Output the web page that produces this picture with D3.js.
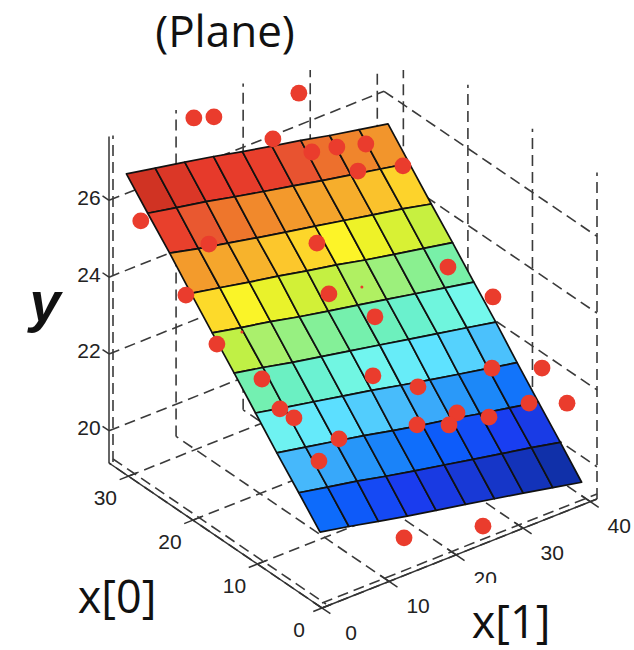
<!DOCTYPE html>
<html>
<head>
<meta charset="utf-8">
<script src="https://d3js.org/d3.v7.min.js"></script>
<style>
body{margin:0;background:#fff;}
text{font-family:"Liberation Sans",sans-serif;fill:#222;}
.big{font-family:"Open Sans",sans-serif;fill:#111;}
</style>
</head>
<body>
<div id="chart"></div>
<script>
// surface grid (rows run from high x[0] to low x[0])
var x0Grid=[30.3,27,23.6,20.3,17,13.6,10.3,7,3.6,0.3];
var x1Grid=[0,4.3,8.7,13,17.3,21.7,26,30.3,34.7,39];
var surfaceY=[
[27.00,26.85,26.70,26.55,26.38,26.22,26.07,25.90,25.75,25.60],
[26.35,26.20,26.05,25.88,25.72,25.56,25.40,25.25,25.10,24.95],
[25.70,25.52,25.36,25.20,25.05,24.90,24.75,24.60,24.45,24.28],
[25.03,24.88,24.72,24.58,24.42,24.27,24.10,23.95,23.80,23.65],
[24.38,24.22,24.07,23.90,23.75,23.60,23.45,23.30,23.15,23.00],
[23.72,23.57,23.40,23.25,23.10,22.95,22.80,22.65,22.50,22.35],
[23.06,22.90,22.75,22.60,22.45,22.28,22.12,21.97,21.82,21.67],
[22.40,22.25,22.10,21.95,21.78,21.62,21.48,21.32,21.17,21.02],
[21.75,21.60,21.45,21.28,21.12,20.97,20.82,20.67,20.52,20.36],
[21.10,20.95,20.78,20.62,20.47,20.32,20.17,20.02,19.86,19.70]
];

// observed points
var pointX0=[33,33,33,31,29,29,29,27,27,29,24,22,18,22,18,15,16,17,13,11,10,8,10,4,7,10,9,7,6,7,6,7,6,0,0];
var pointX1=[12.65,15.64,28.31,22.51,26.39,30.12,34.44,31.34,38.05,0.89,6.23,20.41,36.1,0.88,18.35,39.92,23.29,0.69,3.56,18.18,34.96,40.5,23.93,40.38,37.6,3.35,4.48,26.86,24.71,20.9,30.67,9.27,5.32,12.23,24.0];
var pointY=[27.27,27.09,26.83,26.27,25.89,25.76,25.54,25.28,24.95,25.86,25.46,24.73,23.48,24.73,24.01,22.78,23.30,24.04,23.39,22.69,21.84,21.69,22.12,21.24,21.09,22.97,22.77,21.58,21.53,21.68,21.32,22.12,21.93,20.14,19.63];

// points that barely show through the surface
var hiddenX0=[18,16];
var hiddenX1=[23.27,3.46];
var hiddenY=[23.85,24.28];

// tick values
var x0Ticks=[0,10,20,30];
var x1Ticks=[0,10,20,30,40];
var yTicks=[20,22,24,26];

// colour stops
var colorDomain=[26.75,26.3,25.95,25.8,25.6,25.3,25.0,24.8,24.63,24.5,24.35,24.15,23.97,23.8,23.6,23.4,23.1,22.75,22.4,22.0,21.6,21.3,20.9,20.5,20.1];
var colorRange=["#c5301f","#e63a2b","#e83f2c","#e85530","#ef7a2c","#f39a2c","#f6ae2c","#fcc92c","#fdd92a","#fdf528","#eef228","#d0f038","#c0f045","#a8f070","#90f088","#78f0a8","#68f0c8","#74f8ec","#5fe4ff","#46b8fb","#1e8cf8","#0a64fc","#1a3cf0","#1838d0","#1030a8"];

var svgWidth=634;
var svgHeight=650;

var svg=d3.select("#chart")
.append("svg")
.attr("width",svgWidth)
.attr("height",svgHeight);

// box limits
var x0Max=33, x1Max=41, yMin=19.16, yMax=27.66;
var originX=322, originY=608;

// each data axis moves the screen position along its own direction
var x0ToX=d3.scaleLinear().domain([0,x0Max]).range([0,-213]);
var x0ToY=d3.scaleLinear().domain([0,x0Max]).range([0,-145]);
var x1ToX=d3.scaleLinear().domain([0,x1Max]).range([0,275]);
var x1ToY=d3.scaleLinear().domain([0,x1Max]).range([0,-109]);
var yToY=d3.scaleLinear().domain([yMin,yMax]).range([0,-326.4]);
var colorScale=d3.scaleLinear().domain(colorDomain).range(colorRange).clamp(true);

function project(a,b,c) {
    return [originX+x0ToX(a)+x1ToX(b), originY+x0ToY(a)+x1ToY(b)+yToY(c)];
}

var line=d3.line();

function dashed(from,to) {
    svg.append("path")
    .attr("d",line([from,to]))
    .attr("fill","none")
    .attr("stroke","#3a3a3a")
    .attr("stroke-width",1.6)
    .attr("stroke-dasharray","11 6");
}

function solid(from,to) {
    svg.append("path")
    .attr("d",line([from,to]))
    .attr("fill","none")
    .attr("stroke","#333")
    .attr("stroke-width",1.5);
}

// walls: lines of constant y
yTicks.forEach(function(t) {
    dashed(project(x0Max,0,t),project(x0Max,x1Max,t));
    dashed(project(x0Max,x1Max,t),project(0,x1Max,t));
    solid(project(x0Max,0,t),project(x0Max+1,0,t));
});

// walls: verticals
x1Ticks.slice(1).forEach(function(t) {
    dashed(project(x0Max,t,yMin),project(x0Max,t,yMax));
});
x0Ticks.forEach(function(t) {
    dashed(project(t,x1Max,yMin),project(t,x1Max,yMax));
});

// floor grid
x0Ticks.forEach(function(t) {
    dashed(project(t,0,yMin),project(t,x1Max,yMin));
    solid(project(t,-1.3,yMin),project(t,1.3,yMin));
});
x1Ticks.forEach(function(t) {
    dashed(project(0,t,yMin),project(x0Max,t,yMin));
    solid(project(-1.3,t,yMin),project(1.3,t,yMin));
});

// front axes, solid with a dashed twin beside them
solid(project(x0Max,0,yMin),project(x0Max,0,yMax));
solid(project(x0Max,0,yMin),project(0,0,yMin));
solid(project(0,0,yMin),project(0,x1Max,yMin));
function shifted(p,dx,dy) {
    return [p[0]+dx,p[1]+dy];
}
dashed(shifted(project(x0Max,0,yMin),4,-1),shifted(project(x0Max,0,yMax),4,-1));
dashed(shifted(project(x0Max,0,yMin),4,-4),shifted(project(0,0,yMin),4,-4));
dashed(shifted(project(0,0,yMin),0,-5),shifted(project(0,x1Max,yMin),0,-5));

// surface cells
var cells=[];
d3.range(x0Grid.length-1).forEach(function(r) {
    d3.range(x1Grid.length-1).forEach(function(c) {
        cells.push({r:r,c:c});
    });
});

svg.append("g")
.selectAll("path")
.data(cells)
.enter()
.append("path")
.attr("d",function(d) {
    return line([
        project(x0Grid[d.r],x1Grid[d.c],surfaceY[d.r][d.c]),
        project(x0Grid[d.r],x1Grid[d.c+1],surfaceY[d.r][d.c+1]),
        project(x0Grid[d.r+1],x1Grid[d.c+1],surfaceY[d.r+1][d.c+1]),
        project(x0Grid[d.r+1],x1Grid[d.c],surfaceY[d.r+1][d.c])
    ])+"Z";
})
.attr("fill",function(d) {
    return colorScale(d3.mean([surfaceY[d.r][d.c],surfaceY[d.r][d.c+1],surfaceY[d.r+1][d.c],surfaceY[d.r+1][d.c+1]]));
})
.attr("stroke","#111")
.attr("stroke-width",1.7)
.attr("stroke-linejoin","round");

// points
svg.append("g")
.selectAll("circle")
.data(pointX0)
.enter()
.append("circle")
.attr("cx",function(d,i) {return project(d,pointX1[i],pointY[i])[0];})
.attr("cy",function(d,i) {return project(d,pointX1[i],pointY[i])[1];})
.attr("r",8.4)
.attr("fill","#ea3c2d");

svg.append("g")
.selectAll("circle")
.data(hiddenX0)
.enter()
.append("circle")
.attr("cx",function(d,i) {return project(d,hiddenX1[i],hiddenY[i])[0];})
.attr("cy",function(d,i) {return project(d,hiddenX1[i],hiddenY[i])[1];})
.attr("r",1.5)
.attr("fill","#ea3c2d");

// tick labels
function tickLabels(values,pos,dx,dy) {
    svg.append("g")
    .selectAll("text")
    .data(values)
    .enter()
    .append("text")
    .attr("x",d=>pos(d)[0]+dx)
    .attr("y",d=>pos(d)[1]+dy)
    .attr("text-anchor","middle")
    .attr("dominant-baseline","central")
    .attr("font-size","21px")
    .text(d=>d);
}
tickLabels(yTicks,d=>project(x0Max,0,d),-20,-3);
tickLabels(x0Ticks,d=>project(d,0,yMin),-23,21);
tickLabels(x1Ticks,d=>project(0,d,yMin),29,24);

// white boxes behind the pasted labels
svg.append("rect").attr("x",130).attr("y",0).attr("width",300).attr("height",70).attr("fill","#fff");
svg.append("rect").attr("x",465).attr("y",583).attr("width",95).attr("height",67).attr("fill","#fff");

// axis labels
svg.append("text").attr("class","big").attr("x",225).attr("y",47).attr("text-anchor","middle").attr("font-size","44px").text("(Plane)");
svg.append("text").attr("class","big").attr("x",117).attr("y",613).attr("text-anchor","middle").attr("font-size","45px").text("x[0]");
svg.append("text").attr("class","big").attr("x",511).attr("y",638).attr("text-anchor","middle").attr("font-size","45px").text("x[1]");
svg.append("text").attr("x",45).attr("y",321).attr("text-anchor","middle").attr("font-size","56px").attr("font-weight","bold").attr("font-style","italic").style("fill","#111").text("y");
</script>
</body>
</html>
